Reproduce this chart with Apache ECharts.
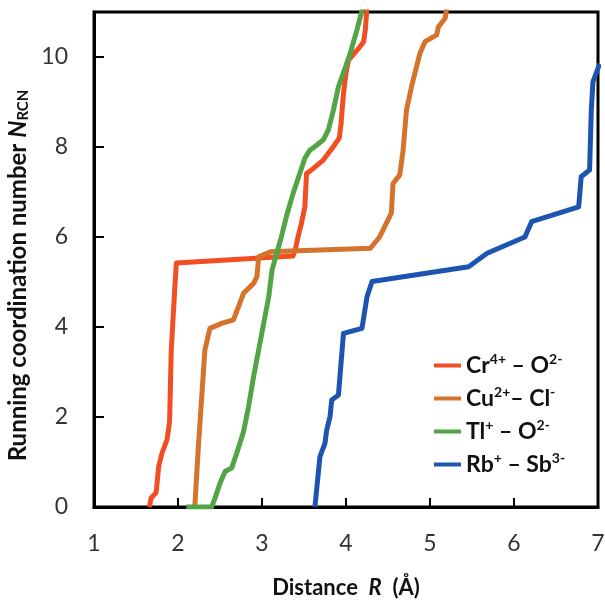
<!DOCTYPE html>
<html>
<head>
<meta charset="utf-8">
<script src="https://cdn.jsdelivr.net/npm/echarts@6/dist/echarts.min.js"></script>
<style>html,body{margin:0;padding:0;background:#fff;}#c{width:605px;height:600px;}</style>
</head>
<body>
<div id="c"></div>
<script>
const seriesNames = ['Cr4+ – O2-', 'Cu2+– Cl-', 'Tl+ – O2-', 'Rb+ – Sb3-'];
const legendRich = ['Cr{sup|4+} – O{sup|2-}', 'Cu{sup|2+}– Cl{sup|-}', 'Tl{sup|+} – O{sup|2-}', 'Rb{sup|+} – Sb{sup|3-}'];
const colors = ['#F24E24', '#D5722B', '#52A446', '#1D54B0'];
const xTicks = [1, 2, 3, 4, 5, 6, 7];
const yTicks = [0, 2, 4, 6, 8, 10];

const crO = [[1.66,0],[1.68,0.2],[1.74,0.32],[1.77,0.9],[1.81,1.2],[1.87,1.5],[1.90,1.9],[1.92,3.5],[1.96,4.8],[1.98,5.42],[3.37,5.58],[3.40,5.75],[3.43,6.01],[3.47,6.31],[3.51,6.67],[3.53,7.41],[3.59,7.49],[3.73,7.71],[3.85,8.01],[3.92,8.2],[3.94,8.5],[3.97,9.19],[4.0,9.64],[4.03,9.93],[4.15,10.19],[4.21,10.34],[4.23,10.6],[4.25,11.1]];
const cuCl = [[2.20,0],[2.24,1.27],[2.28,2.38],[2.32,3.49],[2.38,3.97],[2.52,4.08],[2.66,4.16],[2.72,4.45],[2.78,4.75],[2.90,4.97],[2.94,5.12],[2.96,5.56],[3.10,5.67],[4.29,5.75],[4.40,6.0],[4.46,6.23],[4.54,6.53],[4.56,7.19],[4.64,7.38],[4.68,7.93],[4.72,8.82],[4.78,9.34],[4.88,10.08],[4.94,10.34],[5.08,10.49],[5.10,10.67],[5.18,10.86],[5.20,11.1]];
const tlO = [[2.10,0],[2.40,0],[2.44,0.19],[2.50,0.53],[2.56,0.79],[2.64,0.87],[2.70,1.2],[2.78,1.67],[2.84,2.23],[2.90,2.9],[2.96,3.49],[3.02,4.08],[3.08,4.67],[3.12,5.27],[3.17,5.6],[3.23,6.0],[3.29,6.45],[3.37,6.97],[3.45,7.41],[3.51,7.75],[3.57,7.93],[3.65,8.04],[3.73,8.16],[3.79,8.38],[3.85,8.82],[3.91,9.34],[3.97,9.65],[4.05,10.08],[4.13,10.6],[4.20,11.1]];
const rbSb = [[3.63,0],[3.69,1.12],[3.75,1.42],[3.77,1.71],[3.81,2.01],[3.83,2.38],[3.91,2.49],[3.97,3.86],[4.19,3.97],[4.25,4.67],[4.31,5.01],[5.46,5.34],[5.68,5.64],[6.13,6.0],[6.21,6.34],[6.77,6.67],[6.80,7.34],[6.90,7.49],[6.92,8.82],[6.94,9.45],[7.02,9.85]];
const allData = [crO, cuCl, tlO, rbSb];

const FONT = 'Lato';
const chart = echarts.init(document.getElementById('c'), null, {renderer: 'canvas'});
chart.setOption({
  animation: false,
  backgroundColor: '#fff',
  grid: {left: 94, right: 7, top: 12, bottom: 93, show: true, borderColor: '#000', borderWidth: 3,
    backgroundColor: 'transparent', containLabel: false, outerBoundsMode: 'none'},
  xAxis: {
    type: 'value', min: xTicks[0], max: xTicks[xTicks.length - 1], interval: 1,
    name: 'Distance  {it|R}  (Å)', nameLocation: 'middle', nameGap: 70,
    nameTextStyle: {fontFamily: FONT, fontSize: 22, fontWeight: 'bold', color: '#111',
      rich: {it: {fontFamily: FONT, fontSize: 22, fontWeight: 'bold', fontStyle: 'italic', color: '#111'}}},
    axisLine: {show: true, lineStyle: {color: '#000', width: 3}},
    axisTick: {show: true, inside: true, length: 9, lineStyle: {color: '#000', width: 2}},
    axisLabel: {fontFamily: FONT, fontSize: 23, color: '#333', margin: 25},
    splitLine: {show: false}
  },
  yAxis: {
    type: 'value', min: 0, max: 11, interval: 2,
    name: 'Running coordination number {it|N}{sub|RCN}', nameLocation: 'middle', nameGap: 58,
    nameTextStyle: {fontFamily: FONT, fontSize: 24, fontWeight: 'bold', color: '#111', padding: [0, 32, 0, 0],
      rich: {it: {fontFamily: FONT, fontSize: 24, fontWeight: 'bold', fontStyle: 'italic', color: '#111'},
             sub: {fontFamily: FONT, fontSize: 15, fontWeight: 'bold', color: '#111', verticalAlign: 'bottom', lineHeight: 14}}},
    axisLine: {show: true, lineStyle: {color: '#000', width: 3}},
    axisTick: {show: true, inside: true, length: 10, lineStyle: {color: '#000', width: 2}},
    axisLabel: {fontFamily: FONT, fontSize: 23, color: '#333', margin: 26, showMaxLabel: false,
      formatter: v => (yTicks.indexOf(v) >= 0 ? String(v) : '')},
    splitLine: {show: false}
  },
  legend: {
    orient: 'vertical', left: 429, top: 347,
    data: seriesNames.map(n => ({name: n, icon: 'rect'})),
    itemWidth: 27, itemHeight: 4, itemGap: 6,
    formatter: name => legendRich[seriesNames.indexOf(name)],
    textStyle: {fontFamily: FONT, fontSize: 23, fontWeight: 'bold', color: '#111', lineHeight: 27,
      rich: {sup: {fontFamily: FONT, fontSize: 14, fontWeight: 'bold', color: '#111', verticalAlign: 'top', lineHeight: 14}}}
  },
  series: allData.map((d, i) => ({
    name: seriesNames[i], type: 'line', data: d, showSymbol: false, symbol: 'none',
    clip: true, lineStyle: {color: colors[i], width: 5, join: 'round'}, itemStyle: {color: colors[i]}
  }))
});
</script>
</body>
</html>
